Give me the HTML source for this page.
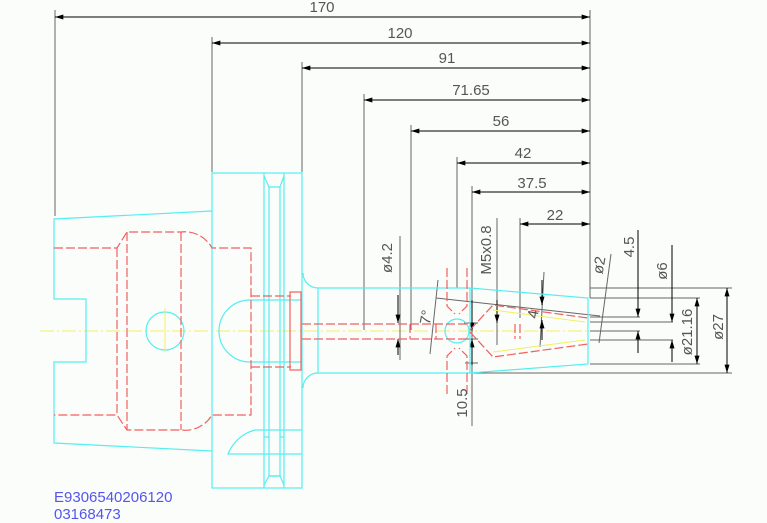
<!DOCTYPE html>
<html><head><style>
html,body{margin:0;padding:0;background:#fbfdfb;}
svg{display:block;}
text{font-family:"Liberation Sans",sans-serif;}
</style></head><body>
<svg width="767" height="523" viewBox="0 0 767 523" xmlns="http://www.w3.org/2000/svg">
<rect width="767" height="523" fill="#fbfdfb"/>
<defs>
<marker id="a" viewBox="0 0 10 6" refX="10" refY="3" markerWidth="12" markerHeight="5" orient="auto-start-reverse" markerUnits="userSpaceOnUse"><path d="M0,0 L10,3 L0,6z" fill="#000"/></marker>
</defs>
<line x1="40" y1="331" x2="600" y2="331" stroke="#f0f060" stroke-width="1" stroke-dasharray="14,3,2,3"/>
<g stroke="#666" stroke-width="1">
<line x1="55" y1="10" x2="55" y2="216"/>
<line x1="212" y1="37" x2="212" y2="172"/>
<line x1="302" y1="62" x2="302" y2="172"/>
<line x1="364" y1="94" x2="364" y2="330"/>
<line x1="411" y1="125" x2="411" y2="330"/>
<line x1="457" y1="157" x2="457" y2="288"/>
<line x1="472" y1="186" x2="472" y2="426"/>
<line x1="520" y1="218" x2="520" y2="318"/>
<line x1="590" y1="10" x2="590" y2="298"/>
<line x1="400" y1="236" x2="400" y2="360"/>
<line x1="497" y1="218" x2="497" y2="345"/>
<line x1="590" y1="288" x2="732" y2="288"/>
<line x1="590" y1="298" x2="700" y2="298"/>
<line x1="590" y1="364" x2="700" y2="364"/>
<line x1="470" y1="373" x2="732" y2="373"/>
<line x1="590" y1="317" x2="640" y2="317"/>
<line x1="590" y1="322" x2="673" y2="322"/>
<line x1="590" y1="340" x2="673" y2="340"/>
<line x1="590" y1="331" x2="640" y2="331"/>
<line x1="436" y1="298" x2="600" y2="316"/>
<line x1="438" y1="280" x2="430" y2="354"/>
<line x1="544" y1="272" x2="540" y2="347"/>
<line x1="611" y1="254" x2="599" y2="343"/>
<line x1="464" y1="323" x2="478" y2="323"/>
<line x1="464" y1="339" x2="478" y2="339"/>
<line x1="465" y1="363" x2="478" y2="363"/>
</g>
<g stroke="#000" stroke-width="1" marker-start="url(#a)" marker-end="url(#a)">
<line x1="55" y1="17" x2="590" y2="17"/>
<line x1="212" y1="43" x2="590" y2="43"/>
<line x1="302" y1="68" x2="590" y2="68"/>
<line x1="364" y1="100" x2="590" y2="100"/>
<line x1="411" y1="131" x2="590" y2="131"/>
<line x1="457" y1="163" x2="590" y2="163"/>
<line x1="472" y1="192" x2="590" y2="192"/>
<line x1="520" y1="224" x2="590" y2="224"/>
<line x1="727" y1="288" x2="727" y2="373"/>
<line x1="697" y1="298" x2="697" y2="364"/>
</g>
<g stroke="#000" stroke-width="1">
<line x1="398" y1="295" x2="398" y2="323" marker-end="url(#a)"/>
<line x1="398" y1="355" x2="398" y2="339" marker-end="url(#a)"/>
<line x1="672" y1="245" x2="672" y2="322" marker-end="url(#a)"/>
<line x1="672" y1="362" x2="672" y2="340" marker-end="url(#a)"/>
<line x1="638" y1="230" x2="638" y2="317" marker-end="url(#a)"/>
<line x1="638" y1="353" x2="638" y2="331" marker-end="url(#a)"/>
<line x1="472" y1="300" x2="472" y2="331" marker-end="url(#a)"/>
<line x1="472" y1="365" x2="472" y2="339" marker-end="url(#a)"/>
<line x1="497" y1="300" x2="497" y2="323" marker-end="url(#a)"/>
<line x1="542" y1="280" x2="542" y2="305" marker-end="url(#a)"/>
<line x1="542" y1="340" x2="542" y2="320" marker-end="url(#a)"/>
</g>
<g stroke="#55eef0" stroke-width="1.2" fill="none">
<path d="M212,211 L54,219 L54,299 L86,299 L86,362 L54,362 L54,443 L212,451"/>
<rect x="212" y="173" width="90" height="315"/>
<line x1="264" y1="173" x2="264" y2="488"/>
<line x1="284" y1="173" x2="284" y2="488"/>
<path d="M264,176 L269,187 L280,187 L284,176"/>
<path d="M264,485 L269,476 L280,476 L284,485"/>
<line x1="269" y1="187" x2="269" y2="437"/>
<line x1="280" y1="187" x2="280" y2="437"/>
<path d="M264,437 L269,437 L269,476 L280,476 L280,437 L284,437"/>
<path d="M302,430 L255,430 A40,40 0 0 0 228,454 L302,454"/>
<circle cx="165" cy="331" r="19"/>
<path d="M250,300 A31,31 0 0 0 250,362 M250,300 L302,300 M250,362 L302,362"/>
<path d="M303,273 A15,15 0 0 0 318,288 L470,288 L588,298 L588,364 L470,373 L318,373 A15,15 0 0 0 303,388"/>
<line x1="318" y1="288" x2="318" y2="373"/>
<line x1="470" y1="288" x2="470" y2="373"/>
<circle cx="457" cy="331" r="12"/>
</g>
<g stroke="#f06060" stroke-width="1.2" fill="none" stroke-dasharray="9,3">
<path d="M54,248 L117,248 L127,232 L181,232 A31,31 0 0 1 212,248 L251,248 L251,415 L212,415 A31,31 0 0 1 181,430 L127,430 L117,415 L54,415"/>
<line x1="117" y1="248" x2="117" y2="415"/>
<line x1="127" y1="232" x2="127" y2="430"/>
<line x1="181" y1="232" x2="181" y2="430"/>
<path d="M251,296 L291,296 M251,367 L291,367"/>
<path d="M302,324 L470,324 M302,339 L470,339"/>
<path d="M410,324 L410,339 M436,324 L436,339"/>
<path d="M447,268 L447,306 L455,314 M467,268 L467,306 L459,314"/>
<path d="M447,394 L447,356 L455,348 M467,394 L467,356 L459,348"/>
<path d="M470,330 L493,305 L588,318 M470,332 L493,357 L588,344"/>
<path d="M515,324 L515,339 M520,324 L520,339"/>
</g>
<rect x="290" y="292" width="11" height="78" fill="none" stroke="#f06060" stroke-width="1.2"/>
<g stroke="#f0f060" stroke-width="1" fill="none">
<line x1="165" y1="308" x2="165" y2="352"/>
<path d="M493,310 L585,322 M493,352 L585,340"/>
</g>
<g fill="#555" font-size="15" text-anchor="middle">
<text x="322" y="12">170</text>
<text x="400" y="38">120</text>
<text x="447" y="63">91</text>
<text x="471" y="95">71.65</text>
<text x="501" y="126">56</text>
<text x="523" y="158">42</text>
<text x="532" y="188">37.5</text>
<text x="555" y="220">22</text>
<text transform="translate(392,258) rotate(-90)">ø4.2</text>
<text transform="translate(491,250) rotate(-90)">M5x0.8</text>
<text transform="translate(467,403) rotate(-90)">10.5</text>
<text transform="translate(604,266) rotate(-80)">ø2</text>
<text transform="translate(634,247) rotate(-90)">4.5</text>
<text transform="translate(667,271) rotate(-90)">ø6</text>
<text transform="translate(692,332) rotate(-90)">ø21.16</text>
<text transform="translate(723,327) rotate(-90)">ø27</text>
<text transform="translate(431,318) rotate(-80)">7°</text>
<text transform="translate(538,315) rotate(-80)">4</text>
</g>
<g fill="#5555ee" font-size="15">
<text x="54" y="502">E9306540206120</text>
<text x="54" y="519">03168473</text>
</g>
</svg>
</body></html>
